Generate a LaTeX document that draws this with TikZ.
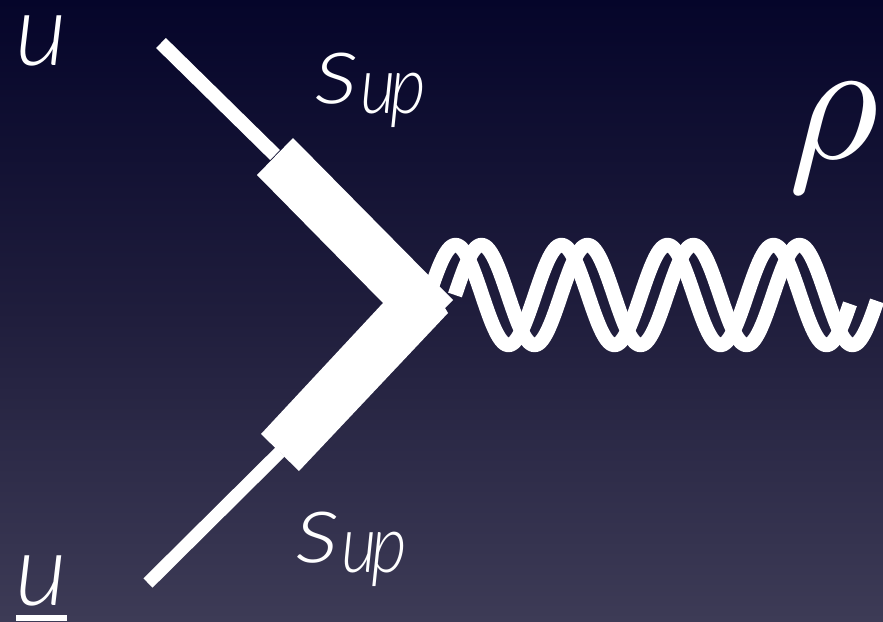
\documentclass[tikz,border=0pt]{standalone}
\usepackage{fontspec}
\setmainfont{Lato Light}[ItalicFont={Lato Light Italic}]
\definecolor{bgtop}{HTML}{05052A}
\definecolor{bgmid}{HTML}{1F1D3C}
\definecolor{bgbot}{HTML}{3D3B56}
\newcommand{\suplabel}{\scalebox{1.12}[1]{s}\kern1pt\raisebox{-10pt}{\scalebox{0.86}[1]{\fontsize{80}{80}\selectfont u\kern-6pt p}}}
\tikzset{
  lbl/.style={text=white,inner sep=0pt},
  bigtext/.style={lbl,font=\itshape\fontsize{100}{100}\selectfont},
  upline/.style={draw=white,line width=14pt},
  downline/.style={draw=white,line width=13pt},
  bosonwave/.style={draw=white,line width=14.5pt,line join=round},
}
\begin{document}
\begin{tikzpicture}[x=1pt,y=-1pt]
\useasboundingbox (0,0) rectangle (883,621);
\shade[top color=bgtop,bottom color=bgbot,middle color=bgmid] (0,0) rectangle (883,621);
\coordinate (ua) at (161,43);
\coordinate (ub) at (275,155);
\coordinate (da) at (148,583);
\coordinate (db) at (280,452);
\draw[upline] (ua) -- (ub);
\draw[downline] (da) -- (db);
\draw[bosonwave] plot[samples=200,domain=429:850] (\x,{295-50*sin((\x-429)/106*360)});
\draw[bosonwave] plot[samples=200,domain=455:877] (\x,{295-50*sin((\x-455)/106*360)});
\fill[white] (293,138) -- (453,300) -- (445,308) -- (448,313) -- (299,471) -- (261,434) -- (383,303) -- (257,175) -- cycle;
\node[bigtext,anchor=base] (u1) at (41,65) {u};
\node[bigtext,anchor=base] (u2) at (41,605) {u};
\fill[white] (16,615) rectangle (67,621);
\node[bigtext,anchor=base west] (s1) at (315,103) {\suplabel};
\node[bigtext,anchor=base west] (s2) at (296,562) {\suplabel};
\node[lbl,scale=17.5,anchor=base] (rho) at (834,158) {$\rho$};
\end{tikzpicture}
\end{document}
